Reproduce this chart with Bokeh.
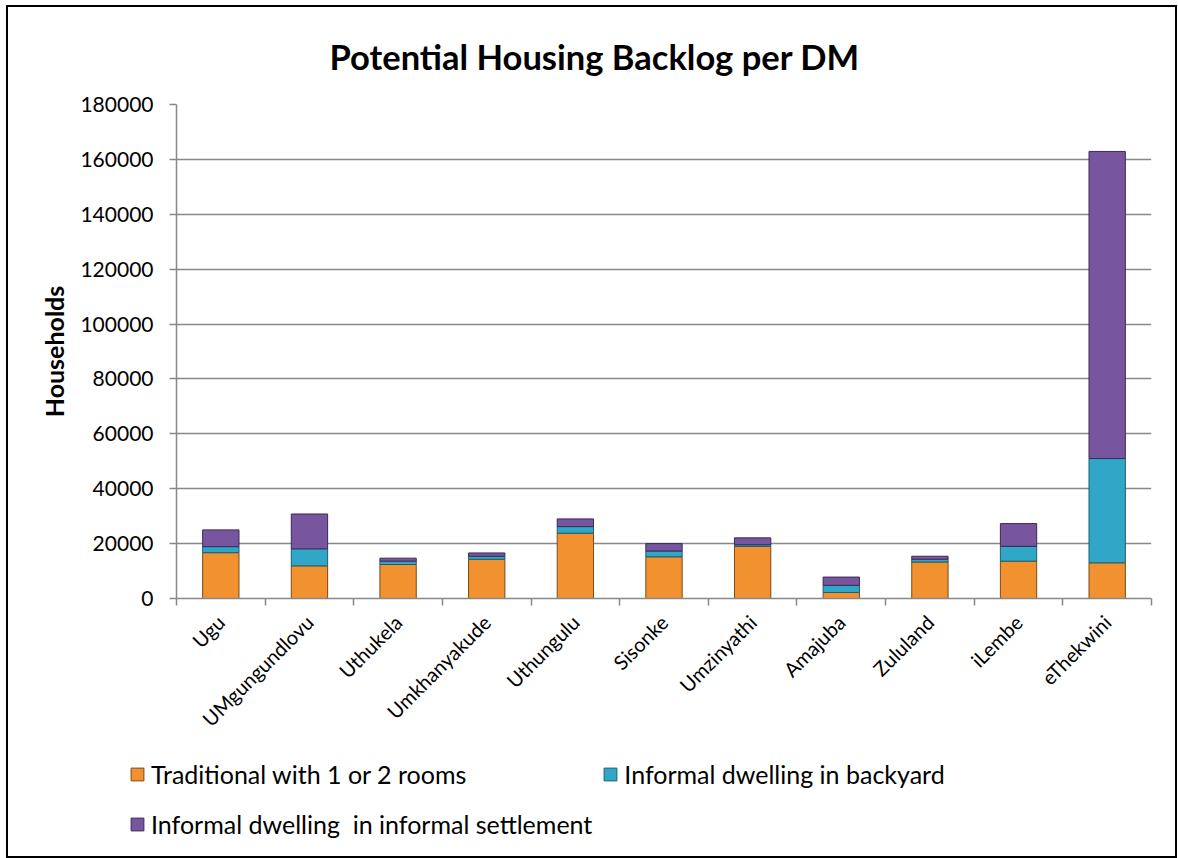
import numpy as np
from bokeh.plotting import figure
from bokeh.layouts import column
from bokeh.models import (Range1d, FixedTicker, BasicTickFormatter, Legend,
                          LegendItem, ColumnDataSource)
from bokeh.embed import file_html
from bokeh.resources import INLINE
from math import pi

# ---- data ----
districts = ["Ugu", "UMgungundlovu", "Uthukela", "Umkhanyakude", "Uthungulu",
             "Sisonke", "Umzinyathi", "Amajuba", "Zululand", "iLembe", "eThekwini"]
traditional = [16700, 11900, 12400, 14300, 23800, 15200, 19000, 2200, 13300, 13600, 13000]
backyard = [2200, 6200, 1200, 1100, 2400, 2100, 600, 2600, 1000, 5400, 38000]
settlement = [6100, 12700, 1100, 1200, 2800, 2700, 2500, 3000, 1100, 8300, 111900]
y_ticks = [0, 20000, 40000, 60000, 80000, 100000, 120000, 140000, 160000, 180000]
series_names = ["Traditional with 1 or 2 rooms",
                "Informal dwelling in backyard",
                "Informal dwelling  in informal settlement"]
title_text = "Potential Housing Backlog per DM"

fill_colors = ["#F2912F", "#31A7C8", "#77559F"]
edge_colors = ["#7A4A18", "#1D5E70", "#3D2A57"]

n = len(districts)
centers = np.arange(n) + 0.5
bounds = np.arange(n + 1).astype(float)

src = ColumnDataSource(dict(x=centers, t=traditional, b=backyard, s=settlement))

FONT = "Lato"
GRAY = "#888888"
W = 1167

# ---- header strip with the title ----
header = figure(width=W, height=83, output_backend="svg", toolbar_location=None,
                x_axis_type=None, y_axis_type=None, min_border=0,
                x_range=Range1d(0, 1), y_range=Range1d(0, 1))
header.min_border_top = 80
header.frame_align = False
header.outline_line_color = None
header.grid.grid_line_color = None
header.border_fill_color = "white"
header.background_fill_color = "white"
header.title.text = title_text
header.title.text_font = FONT
header.title.text_font_style = "bold"
header.title.text_font_size = "34.5px"
header.title.text_color = "black"
header.title.align = "left"
header.title.offset = 321
header.title.standoff = 22

# ---- main chart ----
p = figure(width=W, height=655, output_backend="svg", toolbar_location=None,
           x_range=Range1d(0, n), y_range=Range1d(0, 180000),
           min_border_left=168, min_border_right=24, min_border_top=14,
           min_border_bottom=147)
p.outline_line_color = None
p.background_fill_color = "white"
p.border_fill_color = "white"

p.vbar_stack(["t", "b", "s"], x="x", width=0.41, source=src,
             fill_color=fill_colors, line_color=edge_colors, line_width=1)

# y axis
p.yaxis.ticker = FixedTicker(ticks=y_ticks)
p.yaxis.formatter = BasicTickFormatter(use_scientific=False)
p.yaxis.axis_label = "Households"
p.yaxis.axis_label_text_font = FONT
p.yaxis.axis_label_text_font_style = "bold"
p.yaxis.axis_label_text_font_size = "25px"
p.yaxis.axis_label_text_color = "black"
p.yaxis.axis_label_standoff = 8
p.yaxis.major_label_text_font = FONT
p.yaxis.major_label_text_font_size = "21px"
p.yaxis.major_label_text_color = "black"
p.yaxis.major_label_standoff = 16
p.yaxis.major_tick_out = 7
p.yaxis.major_tick_in = 0
p.yaxis.minor_tick_out = 0
p.yaxis.minor_tick_in = 0
p.yaxis.axis_line_color = GRAY
p.yaxis.major_tick_line_color = GRAY
p.yaxis.axis_line_width = 1.5
p.yaxis.major_tick_line_width = 1.5

# x axis: labels at centres, tick marks at category boundaries
p.xaxis.ticker = FixedTicker(ticks=list(centers), minor_ticks=list(bounds))
p.xaxis.major_label_overrides = {float(c): d for c, d in zip(centers, districts)}
p.xaxis.major_label_orientation = pi / 4
p.xaxis.major_label_text_font = FONT
p.xaxis.major_label_text_font_size = "20px"
p.xaxis.major_label_text_color = "black"
p.xaxis.major_label_standoff = 13
p.xaxis.major_tick_out = 0
p.xaxis.major_tick_in = 0
p.xaxis.minor_tick_out = 7
p.xaxis.minor_tick_in = 0
p.xaxis.minor_tick_line_color = GRAY
p.xaxis.minor_tick_line_width = 1.5
p.xaxis.axis_line_color = GRAY
p.xaxis.axis_line_width = 1.5

p.xgrid.grid_line_color = None
p.ygrid.ticker = FixedTicker(ticks=y_ticks)
p.ygrid.grid_line_color = GRAY
p.ygrid.grid_line_width = 1.5

# ---- legend strip: bars drawn far outside its visible range only to feed the legend ----
leg = figure(width=W, height=111, output_backend="svg", toolbar_location=None,
             x_axis_type=None, y_axis_type=None, min_border=0,
             x_range=Range1d(0, n), y_range=Range1d(1e6, 1e6 + 1))
leg.frame_align = False
leg.outline_line_color = None
leg.grid.grid_line_color = None
leg.border_fill_color = "white"
leg.background_fill_color = "white"
leg_renderers = leg.vbar_stack(["t", "b", "s"], x="x", width=0.41, source=src,
                               fill_color=fill_colors, line_color=edge_colors,
                               line_width=1)
items = [LegendItem(label=name, renderers=[r]) for name, r in zip(series_names, leg_renderers)]
legend = Legend(items=items, location=(121, 12), orientation="horizontal", ncols=2,
                label_text_font=FONT, label_text_font_size="25px",
                label_text_color="black", label_height=40,
                glyph_width=16, glyph_height=16, label_standoff=6, spacing=10,
                padding=0, margin=0, border_line_color=None,
                background_fill_alpha=0)
leg.add_layout(legend)

layout = column(header, p, leg, spacing=0,
                styles={"margin-left": "8px", "margin-top": "7px",
                        "outline": "2px solid black", "outline-offset": "0px"})

open("out.html", "w").write(file_html(layout, INLINE))
